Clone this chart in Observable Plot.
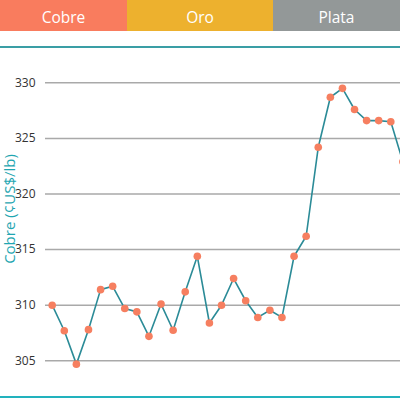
<!DOCTYPE html>
<html>
<head>
<meta charset="utf-8">
<script src="https://cdn.jsdelivr.net/npm/d3@7"></script>
<script src="https://cdn.jsdelivr.net/npm/@observablehq/plot@0.6"></script>
<style>
  html, body { margin: 0; padding: 0; width: 400px; height: 399px; overflow: hidden; background: #fff; font-family: "Open Sans", "Noto Sans", sans-serif; }
  .tabs { display: flex; height: 31px; }
  .tab { display: flex; align-items: center; justify-content: center; color: #fff; font-size: 15.5px; padding-top: 2px; box-sizing: border-box; }
  .topline { margin-top: 15px; height: 2px; background: #3a9ea5; }
  .bottomline { height: 2px; background: #22b2bd; }
  #chart svg { display: block; overflow: hidden; }
</style>
</head>
<body>
<div class="tabs" id="tabs"></div>
<div class="topline"></div>
<div id="chart"></div>
<div class="bottomline"></div>
<script>
const tabNames = ["Cobre", "Oro", "Plata"];
const tabColors = ["#f97c5e", "#edb12e", "#939898"];
const tabWidths = [127, 146, 127];

const yTicks = [305, 310, 315, 320, 325, 330];
const yLabel = "Cobre (¢US$/lb)";
const prices = [310.0, 307.7, 304.7, 307.8, 311.4, 311.7, 309.7, 309.4, 307.2, 310.1,
                307.75, 311.2, 314.4, 308.4, 310.0, 312.4, 310.4, 308.9, 309.55, 308.9,
                314.4, 316.2, 324.2, 328.7, 329.5, 327.6, 326.6, 326.6, 326.5, 322.9];

const tabs = document.getElementById("tabs");
tabNames.forEach((n, i) => {
  const d = document.createElement("div");
  d.className = "tab";
  d.textContent = n;
  d.style.background = tabColors[i];
  d.style.width = tabWidths[i] + "px";
  tabs.appendChild(d);
});

const data = prices.map((v, i) => ({i, v}));

const chart = Plot.plot({
  width: 400,
  height: 348,
  marginTop: 34.3,
  marginBottom: 35.7,
  marginLeft: 45,
  marginRight: 0,
  style: {fontFamily: "'Open Sans', 'Noto Sans', sans-serif", fontSize: "12px", color: "#333"},
  x: {domain: [0, 29], range: [51.7, 402.4], axis: null},
  y: {domain: [305, 330], ticks: yTicks, tickSize: 0, tickPadding: 10, label: null},
  marks: [
    Plot.ruleY(yTicks, {stroke: "#a9a9a9", strokeWidth: 1.5}),
    Plot.line(data, {x: "i", y: "v", stroke: "#2b8b97", strokeWidth: 1.6}),
    Plot.dot(data, {x: "i", y: "v", r: 3.8, fill: "#f67f60", stroke: "none"}),
    Plot.text([yLabel], {frameAnchor: "left", text: d => d, rotate: -90, dx: -31, dy: -12.8,
      lineAnchor: "bottom", textAnchor: "middle", fill: "#1fa6b1", fontSize: 15})
  ]
});
document.getElementById("chart").appendChild(chart);
</script>
</body>
</html>
